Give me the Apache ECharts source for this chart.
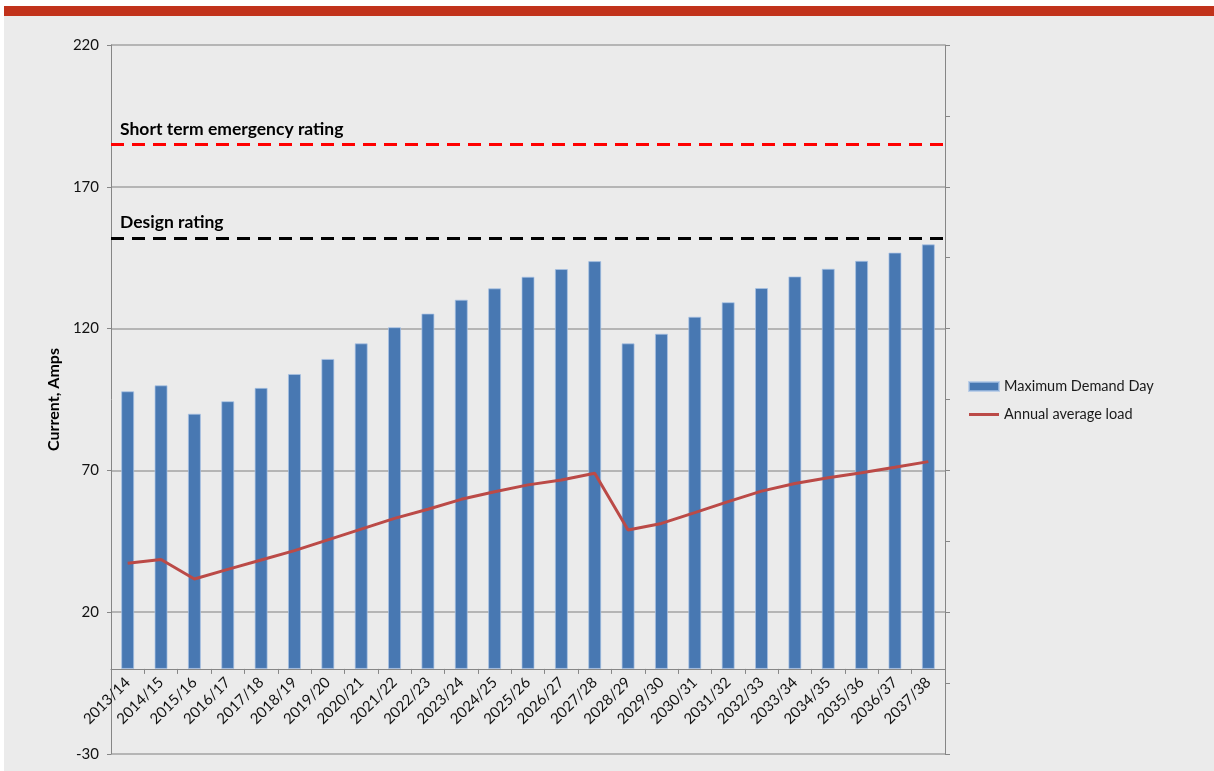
<!DOCTYPE html>
<html>
	<head>
		<meta charset="utf-8">
		<title>ECharts</title>
		<script src="https://cdn.jsdelivr.net/npm/echarts@6/dist/echarts.min.js"></script>
		<style>
			body { margin: 0; background: #ffffff; }
			#topbar { position: absolute; left: 4px; top: 6px; width: 1210px; height: 10px; background: #c1321b; }
			#main { position: absolute; left: 4px; top: 16px; width: 1210px; height: 755px; }
		</style>
	</head>
	<body>
		<div id="topbar"></div>
		<div id="main"></div>
		<script type="text/javascript">
			// data
			var years = ['2013/14', '2014/15', '2015/16', '2016/17', '2017/18', '2018/19', '2019/20',
				'2020/21', '2021/22', '2022/23', '2023/24', '2024/25', '2025/26', '2026/27', '2027/28',
				'2028/29', '2029/30', '2030/31', '2031/32', '2032/33', '2033/34', '2034/35', '2035/36',
				'2036/37', '2037/38'];
			var maxDemandDay = [97.9, 100, 90, 94.4, 99.1, 104, 109.3, 114.8, 120.5, 125.3, 130.2, 134.2,
				138.3, 141, 143.8, 114.8, 118.2, 124.2, 129.3, 134.3, 138.4, 141.1, 143.9, 146.8, 149.7];
			var annualAverage = [37.3, 38.6, 31.7, 35.1, 38.4, 41.7, 45.5, 49.3, 53.1, 56.3, 59.8, 62.5,
				64.9, 66.6, 69, 49, 51.3, 55.1, 59, 62.7, 65.4, 67.4, 69.2, 71.1, 73.1];
			var emergencyRating = 185;
			var designRating = 152;
			var yMin = -30;

			var font = 'Lato, "Open Sans", sans-serif';
			var myChart = echarts.init(document.getElementById('main'));

			var option = {
				backgroundColor: '#ebebeb',
				animation: false,
				textStyle: { fontFamily: font },
				grid: { left: 107, top: 29, right: 269, bottom: 17, outerBoundsMode: 'none' },
				legend: {
					orient: 'vertical',
					left: 959,
					top: 357,
					itemWidth: 30,
					itemHeight: 9,
					itemGap: 11,
					textStyle: { fontFamily: font, fontSize: 14.5, color: '#1a1a1a', lineHeight: 17 },
					data: [
						{ name: 'Maximum Demand Day', icon: 'rect' },
						{ name: 'Annual average load', icon: 'path://M0,0 L30,0 L30,3 L0,3 Z' }
					]
				},
				xAxis: {
					type: 'category',
					data: years,
					axisLine: { onZero: false, lineStyle: { color: '#868686', width: 1 } },
					axisTick: { show: true, length: 5, lineStyle: { color: '#868686' } },
					axisLabel: { rotate: 45, margin: 11, fontSize: 15, color: '#111', fontFamily: font, interval: 0 }
				},
				yAxis: [{
					type: 'value',
					min: yMin,
					max: 220,
					interval: 50,
					name: 'Current, Amps',
					nameLocation: 'middle',
					nameGap: 46,
					nameTextStyle: { fontFamily: font, fontSize: 16, fontWeight: 'bold', color: '#000' },
					axisLine: { show: true, lineStyle: { color: '#868686' } },
					axisTick: { show: true, length: 4, lineStyle: { color: '#868686' } },
					axisLabel: { fontSize: 15, color: '#111', margin: 12, fontFamily: font },
					splitLine: { show: true, lineStyle: { color: '#a3a3a3', width: 1.5 } }
				}, {
					// unlabeled secondary axis on the right
					type: 'value',
					position: 'right',
					min: 0,
					max: 10,
					interval: 1,
					axisLine: { show: true, lineStyle: { color: '#868686' } },
					axisTick: { show: true, length: 5, lineStyle: { color: '#868686' } },
					axisLabel: { show: false },
					splitLine: { show: false }
				}],
				series: [{
					name: 'Maximum Demand Day',
					type: 'bar',
					data: maxDemandDay,
					barWidth: 13,
					itemStyle: { color: '#4878b2', borderColor: 'rgba(170,195,230,0.7)', borderWidth: 1 },
					markLine: {
						silent: true,
						symbol: 'none',
						data: [{
							yAxis: emergencyRating,
							lineStyle: { color: '#ff0000', width: 3, type: [13, 8] },
							label: {
								show: true, position: 'insideStartTop', formatter: 'Short term emergency rating',
								fontFamily: font, fontSize: 17.5, fontWeight: 'bold', color: '#000', distance: [9, 6]
							}
						}, {
							yAxis: designRating,
							lineStyle: { color: '#000000', width: 3, type: [13, 8] },
							label: {
								show: true, position: 'insideStartTop', formatter: 'Design rating',
								fontFamily: font, fontSize: 17.5, fontWeight: 'bold', color: '#000', distance: [9, 6]
							}
						}]
					}
				}, {
					name: 'Annual average load',
					type: 'line',
					data: annualAverage,
					symbol: 'none',
					lineStyle: { color: '#bb4a47', width: 3 },
					itemStyle: { color: '#bb4a47' }
				}]
			};

			myChart.setOption(option);

			// the category axis sits on the value 0 line; move it there using the y scale
			var zeroPx = myChart.convertToPixel({ yAxisIndex: 0 }, 0);
			var minPx = myChart.convertToPixel({ yAxisIndex: 0 }, yMin);
			myChart.setOption({ xAxis: { offset: zeroPx - minPx } });
		</script>
	</body>
</html>
